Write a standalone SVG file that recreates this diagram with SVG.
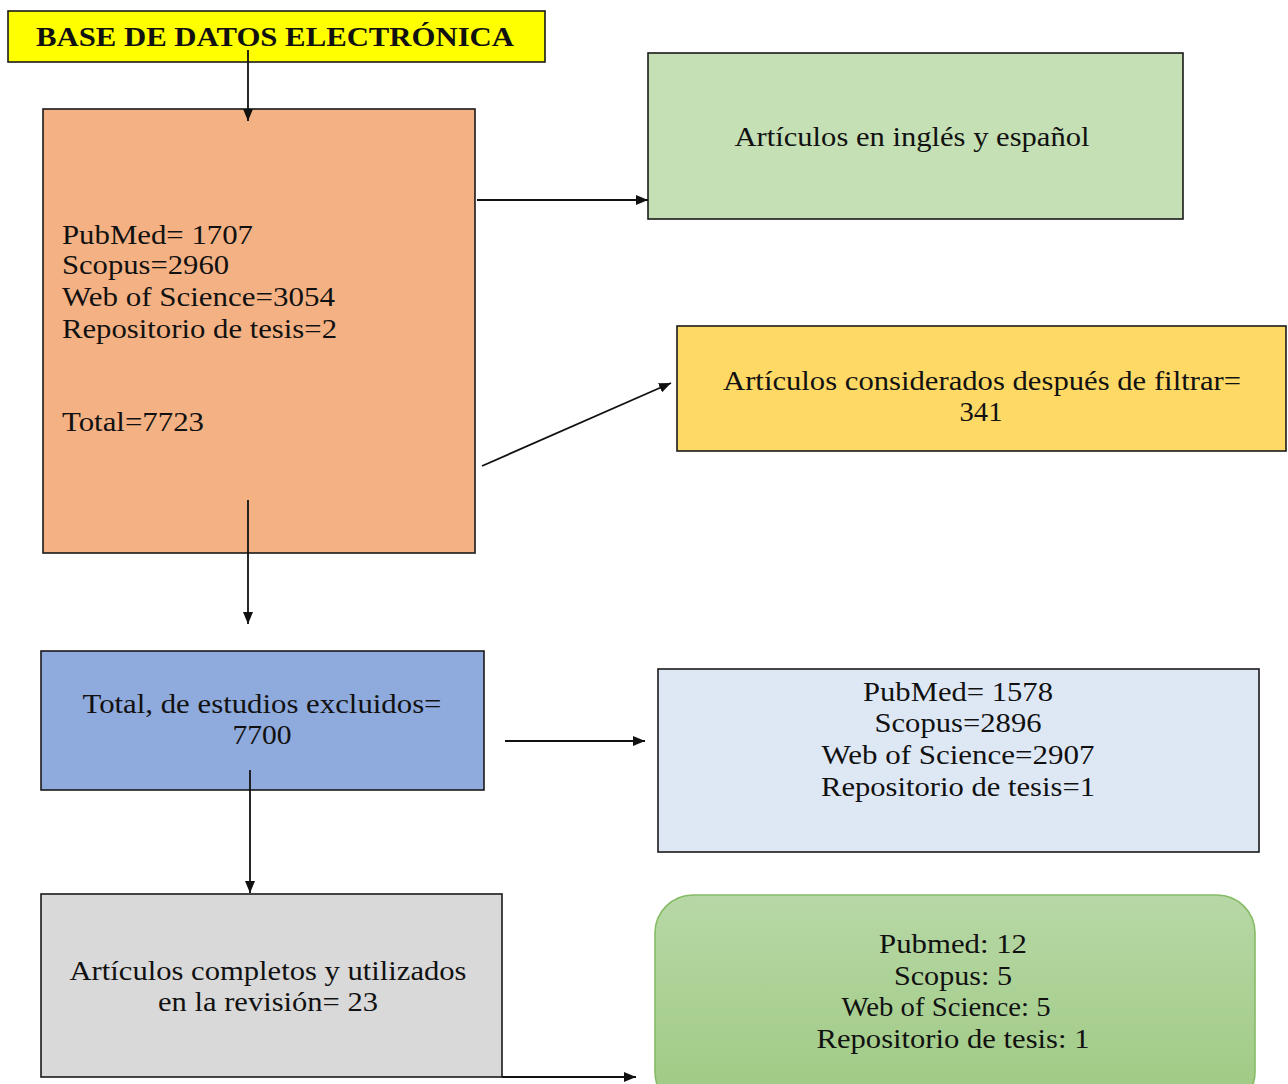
<svg xmlns="http://www.w3.org/2000/svg" width="1288" height="1084" viewBox="0 0 1288 1084">
<style>
.box{stroke:#1a1a1a;stroke-width:1.6}
.t{font-family:"Liberation Serif","Times New Roman",serif;font-size:28px;fill:#111}
.c{text-anchor:middle}
.b{font-weight:bold;font-size:27px}
.ln{stroke:#111;stroke-width:1.8;fill:none;marker-end:url(#ah)}
</style>
<defs>
<marker id="ah" viewBox="0 0 12 10" refX="12" refY="5" markerWidth="12" markerHeight="10" markerUnits="userSpaceOnUse" orient="auto">
<path d="M0,0 L12,5 L0,10 z" fill="#111"/>
</marker>
<linearGradient id="gg" x1="0" y1="0" x2="0" y2="1">
<stop offset="0" stop-color="#b7d8a6"/>
<stop offset="1" stop-color="#9ec982"/>
</linearGradient>
</defs>
<rect width="1288" height="1084" fill="#fff"/>
<g id="base">
<rect class="box" x="8" y="11" width="537" height="51" fill="#ffff00"/>
<text class="t b" x="36" y="46" textLength="478" lengthAdjust="spacingAndGlyphs">BASE DE DATOS ELECTRÓNICA</text>
</g>
<g id="fuentes">
<rect class="box" x="43" y="109" width="432" height="444" fill="#f4b183"/>
<text class="t" x="62" y="244" textLength="191" lengthAdjust="spacingAndGlyphs">PubMed= 1707</text>
<text class="t" x="62" y="274" textLength="167" lengthAdjust="spacingAndGlyphs">Scopus=2960</text>
<text class="t" x="62" y="306" textLength="273" lengthAdjust="spacingAndGlyphs">Web of Science=3054</text>
<text class="t" x="62" y="338" textLength="275" lengthAdjust="spacingAndGlyphs">Repositorio de tesis=2</text>
<text class="t" x="62" y="431" textLength="142" lengthAdjust="spacingAndGlyphs">Total=7723</text>
</g>
<g id="idioma">
<rect class="box" x="648" y="53" width="535" height="166" fill="#c5e0b4"/>
<text class="t c" x="912" y="146" textLength="355" lengthAdjust="spacingAndGlyphs">Artículos en inglés y español</text>
</g>
<g id="filtrados">
<rect class="box" x="677" y="326" width="609" height="125" fill="#ffd966"/>
<text class="t c" x="982" y="390" textLength="518" lengthAdjust="spacingAndGlyphs">Artículos considerados después de filtrar=</text>
<text class="t c" x="981" y="421" textLength="43" lengthAdjust="spacingAndGlyphs">341</text>
</g>
<g id="excluidos">
<rect class="box" x="41" y="651" width="443" height="139" fill="#8faadc"/>
<text class="t c" x="262" y="713" textLength="359" lengthAdjust="spacingAndGlyphs">Total, de estudios excluidos=</text>
<text class="t c" x="262" y="744" textLength="59" lengthAdjust="spacingAndGlyphs">7700</text>
</g>
<g id="excluidos-detalle">
<rect class="box" x="658" y="669" width="601" height="183" fill="#dee8f5"/>
<text class="t c" x="958" y="701" textLength="190" lengthAdjust="spacingAndGlyphs">PubMed= 1578</text>
<text class="t c" x="958" y="732" textLength="167" lengthAdjust="spacingAndGlyphs">Scopus=2896</text>
<text class="t c" x="958" y="764" textLength="273" lengthAdjust="spacingAndGlyphs">Web of Science=2907</text>
<text class="t c" x="958" y="796" textLength="274" lengthAdjust="spacingAndGlyphs">Repositorio de tesis=1</text>
</g>
<g id="incluidos">
<rect class="box" x="41" y="894" width="461" height="183" fill="#d9d9d9"/>
<text class="t c" x="268" y="980" textLength="397" lengthAdjust="spacingAndGlyphs">Artículos completos y utilizados</text>
<text class="t c" x="268" y="1011" textLength="220" lengthAdjust="spacingAndGlyphs">en la revisión= 23</text>
</g>
<g id="incluidos-detalle">
<rect x="655" y="895" width="600" height="215" rx="38" ry="38" fill="url(#gg)" stroke="#86bb66" stroke-width="1.6"/>
<text class="t c" x="953" y="953" textLength="148" lengthAdjust="spacingAndGlyphs">Pubmed: 12</text>
<text class="t c" x="953" y="985" textLength="118" lengthAdjust="spacingAndGlyphs">Scopus: 5</text>
<text class="t c" x="946" y="1016" textLength="209" lengthAdjust="spacingAndGlyphs">Web of Science: 5</text>
<text class="t c" x="953" y="1048" textLength="273" lengthAdjust="spacingAndGlyphs">Repositorio de tesis: 1</text>
</g>
<g id="connectors">
<line class="ln" x1="248" y1="50" x2="248" y2="121"/>
<line class="ln" x1="477" y1="200" x2="648" y2="200"/>
<line class="ln" x1="482" y1="466" x2="671" y2="383"/>
<line class="ln" x1="248" y1="500" x2="248" y2="624"/>
<line class="ln" x1="505" y1="741" x2="645" y2="741"/>
<line class="ln" x1="250" y1="770" x2="250" y2="893"/>
<line class="ln" x1="502" y1="1077" x2="636" y2="1077"/>
</g>
</svg>
